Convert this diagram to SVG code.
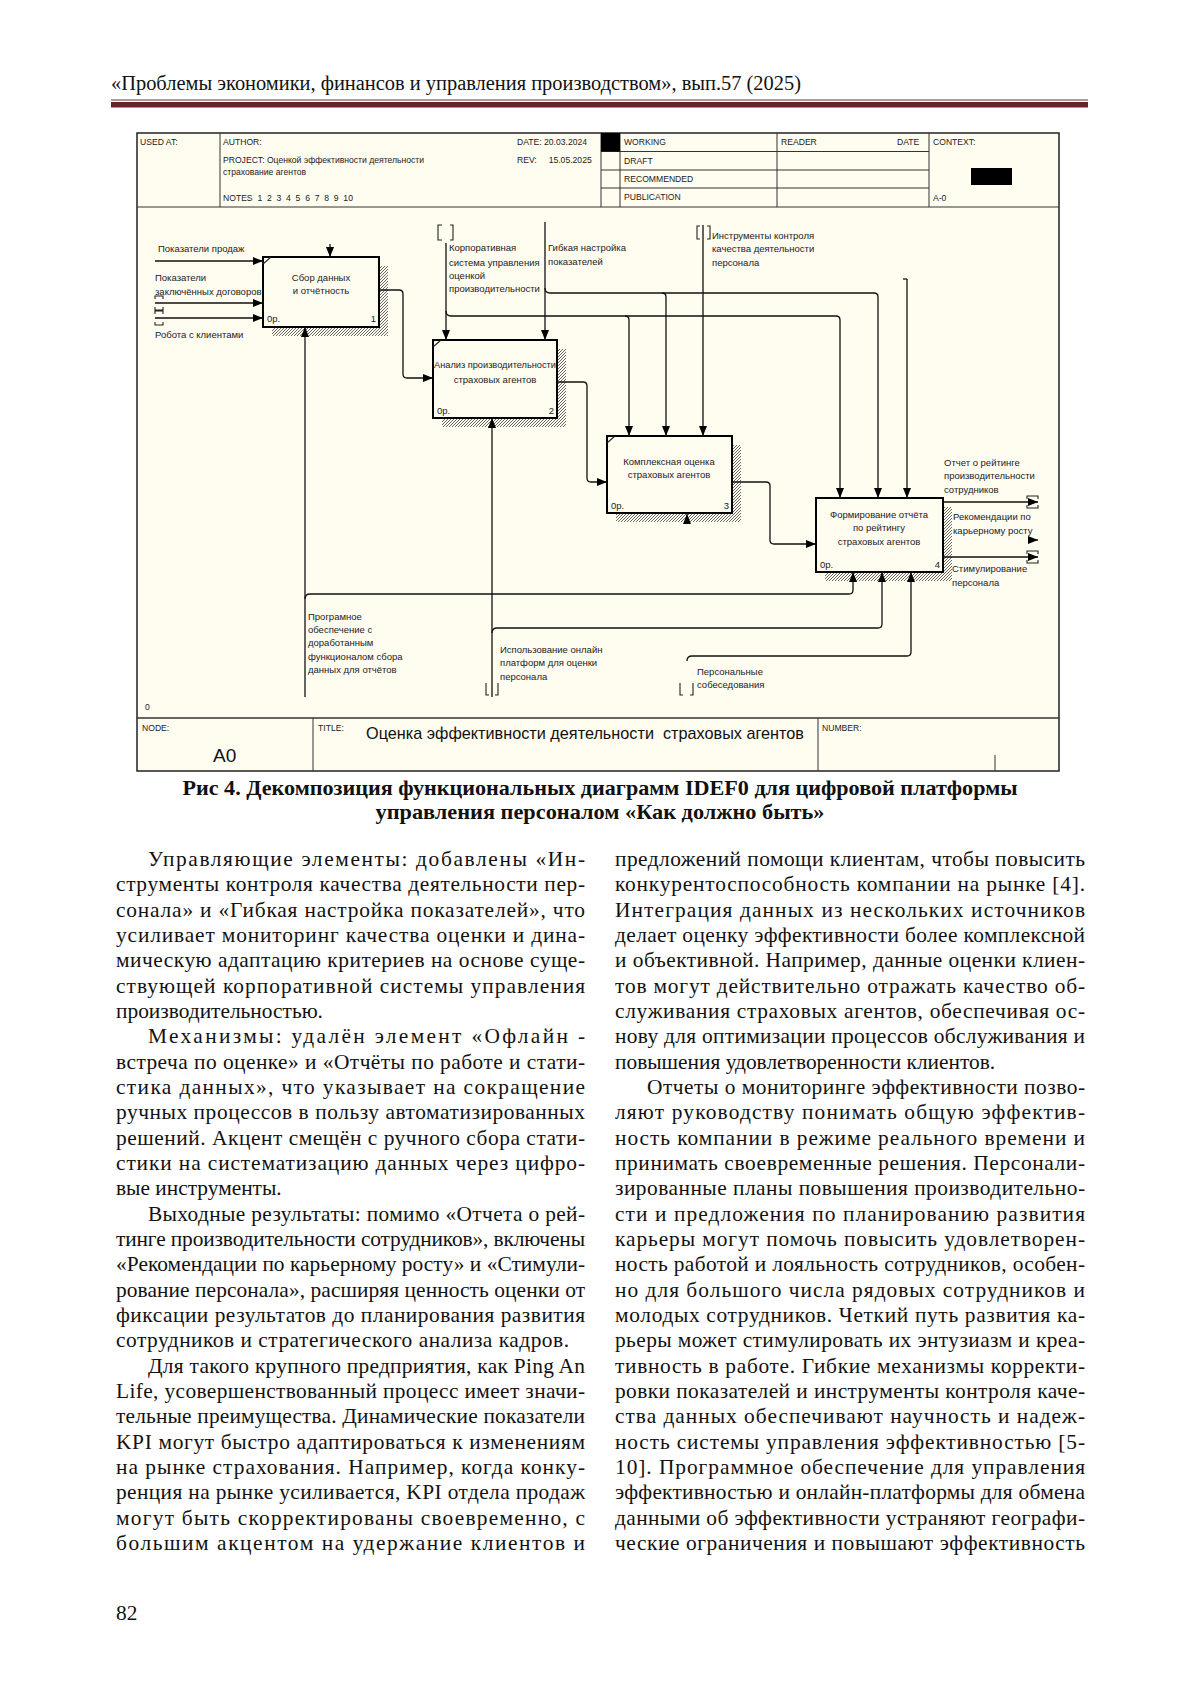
<svg xmlns="http://www.w3.org/2000/svg" width="1200" height="1697" viewBox="0 0 1200 1697">
<defs>
<style>
.pg{font-family:"Liberation Serif","Times New Roman",serif;fill:#111}
.bt{font-size:21.4px}
.cap{font-size:21px;font-weight:bold}
.sm{font-family:"Liberation Sans",Arial,sans-serif;font-size:9.5px;fill:#222}
.hd{font-family:"Liberation Sans",Arial,sans-serif;font-size:8.6px;fill:#222}
.mid{text-anchor:middle}
.end{text-anchor:end}
.cn{fill:none;stroke:#111;stroke-width:1.3}
.box{fill:#fffcf0;stroke:#000;stroke-width:2}
.tl{fill:none;stroke:#222;stroke-width:1.1}
.gl{fill:none;stroke:#333;stroke-width:1}
</style>
<pattern id="hatch" width="3" height="3" patternUnits="userSpaceOnUse"><rect width="3" height="3" fill="#fffcf0"/><path d="M0,3 L3,0" stroke="#555" stroke-width="0.9"/></pattern>
<marker id="ar" markerUnits="userSpaceOnUse" markerWidth="10" markerHeight="8" viewBox="0 0 10 8" refX="10" refY="4" orient="auto"><path d="M0,0 L10,4 L0,8 z" fill="#000"/></marker>
</defs>
<rect width="1200" height="1697" fill="#fff"/>

<!-- page header -->
<text class="pg" x="111" y="90" font-size="20.5" textLength="690" lengthAdjust="spacingAndGlyphs" fill="#333">«Проблемы экономики, финансов и управления производством», вып.57 (2025)</text>
<line x1="111" y1="100" x2="1088" y2="100" stroke="#6b2a2a" stroke-width="1"/>
<rect x="111" y="102" width="977" height="5.5" fill="#6b2426"/>

<!-- diagram frame -->
<g id="frame">
<rect x="137" y="133" width="922" height="638" fill="#fffcf0" stroke="#222" stroke-width="1.5"/>
<line x1="137" y1="207" x2="1059" y2="207" class="gl" stroke-width="1.5"/>
<line x1="220" y1="133" x2="220" y2="207" class="gl"/>
<line x1="601" y1="133" x2="601" y2="207" class="gl"/>
<line x1="620" y1="133" x2="620" y2="207" class="gl"/>
<line x1="777" y1="133" x2="777" y2="207" class="gl"/>
<line x1="929" y1="133" x2="929" y2="207" class="gl"/>
<line x1="601" y1="151.5" x2="929" y2="151.5" class="gl"/>
<line x1="601" y1="170" x2="929" y2="170" class="gl"/>
<line x1="601" y1="188" x2="929" y2="188" class="gl"/>
<rect x="601" y="133" width="19" height="18.5" fill="#000"/>
<rect x="971" y="168" width="41" height="17" fill="#000"/>
<text class="hd" x="140" y="145">USED AT:</text>
<text class="hd" x="223" y="145">AUTHOR:</text>
<text class="hd" x="517" y="145">DATE:  20.03.2024</text>
<text class="hd" x="223" y="163">PROJECT:  Оценкой эффективности деятельности</text>
<text class="hd" x="223" y="175">страхование агентов</text>
<text class="hd" x="517" y="163" style="white-space:pre">REV:     15.05.2025</text>
<text class="hd" x="223" y="201" style="white-space:pre">NOTES  1  2  3  4  5  6  7  8  9  10</text>
<text class="hd" x="624" y="145">WORKING</text>
<text class="hd" x="624" y="164">DRAFT</text>
<text class="hd" x="624" y="182">RECOMMENDED</text>
<text class="hd" x="624" y="200">PUBLICATION</text>
<text class="hd" x="781" y="145">READER</text>
<text class="hd" x="897" y="145">DATE</text>
<text class="hd" x="933" y="145">CONTEXT:</text>
<text class="hd" x="933" y="201">A-0</text>
<text class="hd" x="145" y="710">0</text>
<line x1="137" y1="718" x2="1059" y2="718" stroke="#333" stroke-width="1.5"/>
<line x1="313" y1="718" x2="313" y2="771" class="gl" stroke-width="1.3"/>
<line x1="818" y1="718" x2="818" y2="771" class="gl" stroke-width="1.3"/>
<line x1="995" y1="755" x2="995" y2="771" class="gl"/>
<text class="hd" x="142" y="731">NODE:</text>
<text class="hd" x="318" y="731">TITLE:</text>
<text class="hd" x="822" y="731">NUMBER:</text>
<text x="213" y="762" font-family="Liberation Sans, Arial, sans-serif" font-size="19" fill="#111">A0</text>
<text x="366" y="739" font-family="Liberation Sans, Arial, sans-serif" font-size="17" fill="#111" textLength="438" lengthAdjust="spacingAndGlyphs" style="white-space:pre">Оценка эффективности деятельности  страховых агентов</text>
</g>

<!-- nodes -->
<g id="node1">
<rect x="272" y="266" width="116" height="70" fill="url(#hatch)"/>
<rect class="box" x="263" y="257" width="116" height="70"/>
<path class="tl" d="M263,264 L271,257"/>
<text class="sm mid" x="321" y="281">Сбор данных</text>
<text class="sm mid" x="321" y="294">и отчётность</text>
<text class="sm" x="267" y="322">0р.</text>
<text class="sm end" x="376" y="322">1</text>
</g>
<g id="node2">
<rect x="442" y="349" width="124" height="78" fill="url(#hatch)"/>
<rect class="box" x="433" y="340" width="124" height="78"/>
<path class="tl" d="M433,347 L441,340"/>
<text class="sm mid" x="495" y="368" textLength="122" lengthAdjust="spacingAndGlyphs">Анализ производительности</text>
<text class="sm mid" x="495" y="383">страховых агентов</text>
<text class="sm" x="437" y="414">0р.</text>
<text class="sm end" x="554" y="414">2</text>
</g>
<g id="node3">
<rect x="616" y="445" width="125" height="77" fill="url(#hatch)"/>
<rect class="box" x="607" y="436" width="125" height="77"/>
<path class="tl" d="M607,443 L615,436"/>
<text class="sm mid" x="669" y="465">Комплексная оценка</text>
<text class="sm mid" x="669" y="478">страховых агентов</text>
<text class="sm" x="611" y="509">0р.</text>
<text class="sm end" x="729" y="509">3</text>
</g>
<g id="node4">
<rect x="825" y="507" width="127" height="74" fill="url(#hatch)"/>
<rect class="box" x="816" y="498" width="127" height="74"/>
<text class="sm mid" x="879" y="518">Формирование отчёта</text>
<text class="sm mid" x="879" y="531">по рейтингу</text>
<text class="sm mid" x="879" y="545">страховых агентов</text>
<text class="sm" x="820" y="568">0р.</text>
<text class="sm end" x="940" y="568">4</text>
</g>

<!-- connectors -->
<g id="connectors">
<path class="cn" d="M155,261 H263" marker-end="url(#ar)"/>
<path class="cn" d="M155,303 H263" marker-end="url(#ar)"/>
<path class="cn" d="M155,318 H263" marker-end="url(#ar)"/>
<path class="cn" d="M330,244 V257" marker-end="url(#ar)"/>
<path class="cn" d="M379,290 H399 Q403,290 403,294 V374 Q403,378 407,378 H433" marker-end="url(#ar)"/>
<path class="cn" d="M557,382 H583 Q587,382 587,386 V478 Q587,482 591,482 H607" marker-end="url(#ar)"/>
<path class="cn" d="M732,482 H766 Q770,482 770,486 V540 Q770,544 774,544 H816" marker-end="url(#ar)"/>
<path class="cn" d="M943,502 H1038" marker-end="url(#ar)"/>
<path class="cn" d="M943,557 H1038" marker-end="url(#ar)"/>
<path class="cn" d="M1030,540 H1038" marker-end="url(#ar)"/>
<path class="cn" d="M446,243 V340" marker-end="url(#ar)"/>
<path class="cn" d="M446,311 Q446,316 451,316 H836 Q840,316 840,320 V498" marker-end="url(#ar)"/>
<path class="cn" d="M625,316 Q629,316 629,320 V436" marker-end="url(#ar)"/>
<path class="cn" d="M545,222 V340" marker-end="url(#ar)"/>
<path class="cn" d="M545,288 Q545,293 550,293 H874 Q878,293 878,297 V498" marker-end="url(#ar)"/>
<path class="cn" d="M662,293 Q666,293 666,297 V436" marker-end="url(#ar)"/>
<path class="cn" d="M703,225 V436" marker-end="url(#ar)"/>
<path class="cn" d="M907,279 V498" marker-end="url(#ar)"/>
<path class="cn" d="M903,279 H907"/>
<path class="cn" d="M305,697 V327" marker-end="url(#ar)"/>
<path class="cn" d="M305,599 Q305,594 310,594 H849 Q853,594 853,590 V572" marker-end="url(#ar)"/>
<path class="cn" d="M492,697 V418" marker-end="url(#ar)"/>
<path class="cn" d="M492,633 Q492,628 497,628 H878 Q882,628 882,624 V572" marker-end="url(#ar)"/>
<path class="cn" d="M687,661 Q687,656 692,656 H907 Q911,656 911,652 V572" marker-end="url(#ar)"/>
<path class="cn" d="M687,524 V514" marker-end="url(#ar)"/>
<!-- tunnel brackets -->
<path class="tl" d="M155,299 v-3 h8 v3 M155,307 v3 h8 v-3 M155,314 v-3 h8 v3 M155,322 v3 h8 v-3"/>
<path class="tl" d="M442,225 h-4 v15 h4 M450,225 h3 v15 h-3"/>
<path class="tl" d="M700,226 h-3 v13 h3 M707,226 h3 v13 h-3"/>
<path class="tl" d="M486,683 v12 h3 M498,683 v12 h-3"/>
<path class="tl" d="M680,683 v12 h3 M693,683 v12 h-3"/>
<path class="tl" d="M1027,499 v-3 h11 v3 M1027,505 v3 h11 v-3"/>
<path class="tl" d="M1027,554 v-3 h11 v3 M1027,560 v3 h11 v-3"/>
</g>

<!-- arrow labels -->
<g id="labels">
<text class="sm" x="158" y="252">Показатели продаж</text>
<text class="sm" x="155" y="281">Показатели</text>
<text class="sm" x="155" y="295">заключённых договоров</text>
<text class="sm" x="155" y="338">Робота с клиентами</text>
<text class="sm" x="449" y="251">Корпоративная</text>
<text class="sm" x="449" y="266">система управления</text>
<text class="sm" x="449" y="279">оценкой</text>
<text class="sm" x="449" y="292">производительности</text>
<text class="sm" x="548" y="251">Гибкая настройка</text>
<text class="sm" x="548" y="265">показателей</text>
<text class="sm" x="712" y="239">Инструменты контроля</text>
<text class="sm" x="712" y="252">качества деятельности</text>
<text class="sm" x="712" y="266">персонала</text>
<text class="sm" x="944" y="466">Отчет о рейтинге</text>
<text class="sm" x="944" y="479">производительности</text>
<text class="sm" x="944" y="493">сотрудников</text>
<text class="sm" x="953" y="520">Рекомендации по</text>
<text class="sm" x="953" y="534">карьерному росту</text>
<text class="sm" x="952" y="572">Стимулирование</text>
<text class="sm" x="952" y="586">персонала</text>
<text class="sm" x="308" y="620">Програмное</text>
<text class="sm" x="308" y="633">обеспечение с</text>
<text class="sm" x="308" y="646">доработанным</text>
<text class="sm" x="308" y="660">функционалом сбора</text>
<text class="sm" x="308" y="673">данных для отчётов</text>
<text class="sm" x="500" y="653">Использование онлайн</text>
<text class="sm" x="500" y="666">платформ для оценки</text>
<text class="sm" x="500" y="680">персонала</text>
<text class="sm" x="697" y="675">Персональные</text>
<text class="sm" x="697" y="688">собеседования</text>
</g>

<!-- caption -->
<text class="pg cap mid" x="600" y="795" textLength="835" lengthAdjust="spacingAndGlyphs">Рис 4. Декомпозиция функциональных диаграмм IDEF0 для цифровой платформы</text>
<text class="pg cap mid" x="600" y="819" textLength="449" lengthAdjust="spacingAndGlyphs">управления персоналом «Как должно быть»</text>

<!-- left column -->
<g class="pg bt">
<text x="148" y="866" textLength="437" lengthAdjust="spacing">Управляющие элементы: добавлены «Ин-</text>
<text x="116" y="891.3" textLength="469" lengthAdjust="spacing">струменты контроля качества деятельности пер-</text>
<text x="116" y="916.7" textLength="469" lengthAdjust="spacing">сонала» и «Гибкая настройка показателей», что</text>
<text x="116" y="942" textLength="469" lengthAdjust="spacing">усиливает мониторинг качества оценки и дина-</text>
<text x="116" y="967.3" textLength="469" lengthAdjust="spacing">мическую адаптацию критериев на основе суще-</text>
<text x="116" y="992.7" textLength="469" lengthAdjust="spacing">ствующей корпоративной системы управления</text>
<text x="116" y="1018">производительностью.</text>
<text x="148" y="1043.3" textLength="437" lengthAdjust="spacing">Механизмы: удалён элемент «Офлайн -</text>
<text x="116" y="1068.7" textLength="469" lengthAdjust="spacing">встреча по оценке» и «Отчёты по работе и стати-</text>
<text x="116" y="1094" textLength="469" lengthAdjust="spacing">стика данных», что указывает на сокращение</text>
<text x="116" y="1119.3" textLength="469" lengthAdjust="spacing">ручных процессов в пользу автоматизированных</text>
<text x="116" y="1144.7" textLength="469" lengthAdjust="spacing">решений. Акцент смещён с ручного сбора стати-</text>
<text x="116" y="1170" textLength="469" lengthAdjust="spacing">стики на систематизацию данных через цифро-</text>
<text x="116" y="1195.3">вые инструменты.</text>
<text x="148" y="1220.7" textLength="437" lengthAdjust="spacing">Выходные результаты: помимо «Отчета о рей-</text>
<text x="116" y="1246" textLength="469" lengthAdjust="spacing">тинге производительности сотрудников», включены</text>
<text x="116" y="1271.3" textLength="469" lengthAdjust="spacing">«Рекомендации по карьерному росту» и «Стимули-</text>
<text x="116" y="1296.7" textLength="469" lengthAdjust="spacing">рование персонала», расширяя ценность оценки от</text>
<text x="116" y="1322" textLength="469" lengthAdjust="spacing">фиксации результатов до планирования развития</text>
<text x="116" y="1347.3" textLength="453" lengthAdjust="spacing">сотрудников и стратегического анализа кадров.</text>
<text x="148" y="1372.7" textLength="437" lengthAdjust="spacing">Для такого крупного предприятия, как Ping An</text>
<text x="116" y="1398" textLength="469" lengthAdjust="spacing">Life, усовершенствованный процесс имеет значи-</text>
<text x="116" y="1423.3" textLength="469" lengthAdjust="spacing">тельные преимущества. Динамические показатели</text>
<text x="116" y="1448.7" textLength="469" lengthAdjust="spacing">KPI могут быстро адаптироваться к изменениям</text>
<text x="116" y="1474" textLength="469" lengthAdjust="spacing">на рынке страхования. Например, когда конку-</text>
<text x="116" y="1499.3" textLength="469" lengthAdjust="spacing">ренция на рынке усиливается, KPI отдела продаж</text>
<text x="116" y="1524.7" textLength="469" lengthAdjust="spacing">могут быть скорректированы своевременно, с</text>
<text x="116" y="1550" textLength="469" lengthAdjust="spacing">большим акцентом на удержание клиентов и</text>
</g>

<!-- right column -->
<g class="pg bt">
<text x="615" y="866" textLength="470" lengthAdjust="spacing">предложений помощи клиентам, чтобы повысить</text>
<text x="615" y="891.3" textLength="470" lengthAdjust="spacing">конкурентоспособность компании на рынке [4].</text>
<text x="615" y="916.7" textLength="470" lengthAdjust="spacing">Интеграция данных из нескольких источников</text>
<text x="615" y="942" textLength="470" lengthAdjust="spacing">делает оценку эффективности более комплексной</text>
<text x="615" y="967.3" textLength="470" lengthAdjust="spacing">и объективной. Например, данные оценки клиен-</text>
<text x="615" y="992.7" textLength="470" lengthAdjust="spacing">тов могут действительно отражать качество об-</text>
<text x="615" y="1018" textLength="470" lengthAdjust="spacing">служивания страховых агентов, обеспечивая ос-</text>
<text x="615" y="1043.3" textLength="470" lengthAdjust="spacing">нову для оптимизации процессов обслуживания и</text>
<text x="615" y="1068.7">повышения удовлетворенности клиентов.</text>
<text x="647" y="1094" textLength="438" lengthAdjust="spacing">Отчеты о мониторинге эффективности позво-</text>
<text x="615" y="1119.3" textLength="470" lengthAdjust="spacing">ляют руководству понимать общую эффектив-</text>
<text x="615" y="1144.7" textLength="470" lengthAdjust="spacing">ность компании в режиме реального времени и</text>
<text x="615" y="1170" textLength="470" lengthAdjust="spacing">принимать своевременные решения. Персонали-</text>
<text x="615" y="1195.3" textLength="470" lengthAdjust="spacing">зированные планы повышения производительно-</text>
<text x="615" y="1220.7" textLength="470" lengthAdjust="spacing">сти и предложения по планированию развития</text>
<text x="615" y="1246" textLength="470" lengthAdjust="spacing">карьеры могут помочь повысить удовлетворен-</text>
<text x="615" y="1271.3" textLength="470" lengthAdjust="spacing">ность работой и лояльность сотрудников, особен-</text>
<text x="615" y="1296.7" textLength="470" lengthAdjust="spacing">но для большого числа рядовых сотрудников и</text>
<text x="615" y="1322" textLength="470" lengthAdjust="spacing">молодых сотрудников. Четкий путь развития ка-</text>
<text x="615" y="1347.3" textLength="470" lengthAdjust="spacing">рьеры может стимулировать их энтузиазм и креа-</text>
<text x="615" y="1372.7" textLength="470" lengthAdjust="spacing">тивность в работе. Гибкие механизмы корректи-</text>
<text x="615" y="1398" textLength="470" lengthAdjust="spacing">ровки показателей и инструменты контроля каче-</text>
<text x="615" y="1423.3" textLength="470" lengthAdjust="spacing">ства данных обеспечивают научность и надеж-</text>
<text x="615" y="1448.7" textLength="470" lengthAdjust="spacing">ность системы управления эффективностью [5-</text>
<text x="615" y="1474" textLength="470" lengthAdjust="spacing">10]. Программное обеспечение для управления</text>
<text x="615" y="1499.3" textLength="470" lengthAdjust="spacing">эффективностью и онлайн-платформы для обмена</text>
<text x="615" y="1524.7" textLength="470" lengthAdjust="spacing">данными об эффективности устраняют географи-</text>
<text x="615" y="1550" textLength="470" lengthAdjust="spacing">ческие ограничения и повышают эффективность</text>
</g>

<text class="pg bt" x="116" y="1620">82</text>
</svg>
